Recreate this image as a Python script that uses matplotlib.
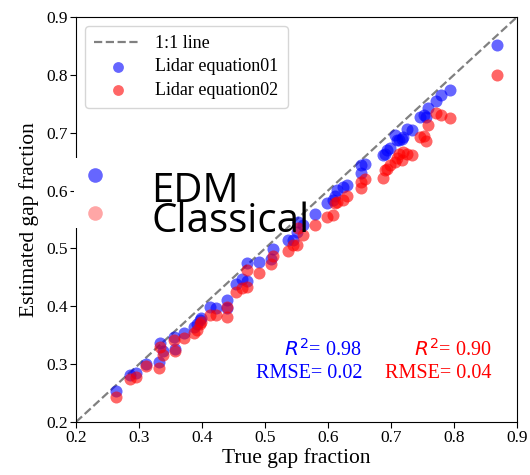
import numpy as np
import matplotlib.pyplot as plt
from matplotlib.patches import Rectangle

# true gap fraction and the two estimates
true_gf = [0.263, 0.285, 0.295, 0.311, 0.332, 0.333, 0.338, 0.356, 0.357, 0.371,
           0.387, 0.392, 0.397, 0.399, 0.413, 0.423, 0.439, 0.439, 0.454, 0.463,
           0.471, 0.471, 0.491, 0.509, 0.512, 0.537, 0.545, 0.550, 0.552, 0.561,
           0.579, 0.598, 0.608, 0.611, 0.614, 0.624, 0.630, 0.652, 0.653, 0.659,
           0.688, 0.690, 0.693, 0.698, 0.706, 0.709, 0.712, 0.717, 0.719, 0.725,
           0.733, 0.746, 0.752, 0.756, 0.759, 0.772, 0.779, 0.794, 0.869]
est_eq01 = [0.254, 0.281, 0.285, 0.300, 0.304, 0.337, 0.322, 0.347, 0.327, 0.353,
            0.365, 0.369, 0.376, 0.379, 0.398, 0.397, 0.397, 0.411, 0.439, 0.448,
            0.474, 0.443, 0.477, 0.481, 0.499, 0.515, 0.515, 0.529, 0.546, 0.541,
            0.560, 0.578, 0.584, 0.590, 0.601, 0.607, 0.610, 0.630, 0.644, 0.646,
            0.662, 0.664, 0.670, 0.674, 0.696, 0.687, 0.687, 0.690, 0.693, 0.706,
            0.704, 0.728, 0.731, 0.728, 0.742, 0.754, 0.765, 0.774, 0.852]
est_eq02 = [0.244, 0.275, 0.278, 0.296, 0.293, 0.330, 0.316, 0.341, 0.323, 0.346,
            0.354, 0.359, 0.369, 0.372, 0.385, 0.385, 0.382, 0.399, 0.425, 0.431,
            0.462, 0.434, 0.458, 0.473, 0.487, 0.495, 0.506, 0.506, 0.535, 0.523,
            0.541, 0.555, 0.558, 0.578, 0.580, 0.584, 0.590, 0.604, 0.615, 0.620,
            0.621, 0.636, 0.638, 0.644, 0.650, 0.656, 0.664, 0.653, 0.667, 0.664,
            0.662, 0.693, 0.694, 0.685, 0.713, 0.734, 0.731, 0.725, 0.800]
ticks = [0.2, 0.3, 0.4, 0.5, 0.6, 0.7, 0.8, 0.9]

W, H = 530, 475
fig = plt.figure(figsize=(W / 100, H / 100), dpi=100)
ax = fig.add_axes([76 / W, (H - 422) / H, 441 / W, 405 / H])

serif = 'Liberation Serif'
ax.plot([0.2, 0.9], [0.2, 0.9], '--', color='gray', lw=1.6, label='1:1 line', zorder=1)
ax.scatter(true_gf, est_eq01, s=75, color='blue', alpha=0.6, lw=0, label='Lidar equation01', zorder=2)
ax.scatter(true_gf, est_eq02, s=75, color='red', alpha=0.6, lw=0, label='Lidar equation02', zorder=3)

ax.set_xlim(0.2, 0.9)
ax.set_ylim(0.2, 0.9)
ax.set_xticks(ticks)
ax.set_yticks(ticks)
ax.set_xticklabels([f'{t:.1f}' for t in ticks], fontfamily=serif, fontsize=12.5)
ax.set_yticklabels([f'{t:.1f}' for t in ticks], fontfamily=serif, fontsize=12.5)
ax.tick_params(length=4, pad=2)
ax.set_xlabel('True gap fraction', fontfamily=serif, fontsize=15.5, labelpad=1)
ax.set_ylabel('Estimated gap fraction', fontfamily=serif, fontsize=15.5, labelpad=5)

ax.legend(loc='upper left', prop={'family': serif, 'size': 13}, borderpad=0.5,
          labelspacing=0.35, handlelength=2.6, markerscale=0.9)

ax.text(0.654, 0.325, r'$R^2$= 0.98', color='blue', ha='right', va='center',
        fontfamily=serif, fontsize=14.5)
ax.text(0.654, 0.284, 'RMSE= 0.02', color='blue', ha='right', va='center',
        fontfamily=serif, fontsize=14.5)
ax.text(0.860, 0.325, r'$R^2$= 0.90', color='red', ha='right', va='center',
        fontfamily=serif, fontsize=14.5)
ax.text(0.860, 0.284, 'RMSE= 0.04', color='red', ha='right', va='center',
        fontfamily=serif, fontsize=14.5)

# pasted-over legend patch
fig.patches.append(Rectangle((74 / W, 1 - 228 / H), 76 / W, 70 / H, transform=fig.transFigure,
                             facecolor='white', edgecolor='none', zorder=5))
fig.add_artist(plt.Line2D([95 / W], [1 - 175 / H], marker='o', ms=10.5, color='blue',
                          alpha=0.6, mew=0, transform=fig.transFigure, zorder=6))
fig.add_artist(plt.Line2D([95 / W], [1 - 213 / H], marker='o', ms=10.5, color='red',
                          alpha=0.35, mew=0, transform=fig.transFigure, zorder=6))
fig.text(151 / W, 1 - 171 / H, 'EDM\nClassical', fontfamily='Open Sans', fontsize=29,
         va='top', linespacing=0.66, zorder=7)

fig.savefig('out.png', dpi=100)
